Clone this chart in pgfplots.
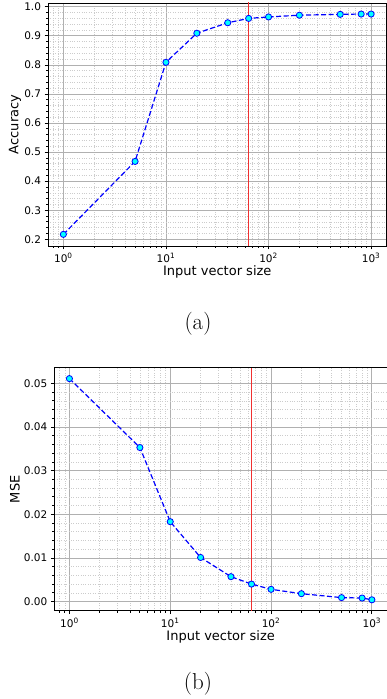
\documentclass[border=0pt]{standalone}
\usepackage{fontspec}
\usepackage{pgfplots}
\pgfplotsset{compat=1.18}
\newfontfamily\dejavu{DejaVu Sans}
\definecolor{mplgrid}{HTML}{B0B0B0}
\definecolor{mplminor}{HTML}{CCCCCC}
\definecolor{mblue}{HTML}{0000FF}
\definecolor{mcyan}{HTML}{00FFFF}
\definecolor{mred}{HTML}{F03030}

\pgfplotsset{mystyle/.style={
  scale only axis,
  xmin=0.70795, xmax=1412.5,
  axis line style={line width=0.9pt, black},
  tick align=outside, xtick pos=bottom, ytick pos=left,
  major tick length=3.5pt, minor tick length=2pt,
  every tick/.style={black, line width=0.8pt},
  grid=both,
  major grid style={mplgrid, line width=0.8pt},
  minor grid style={mplminor, dotted, line width=0.6pt},
  xtick={1,10,100,1000},
  xticklabels={10\textsuperscript{0},10\textsuperscript{1},10\textsuperscript{2},10\textsuperscript{3}},
  minor xtick={0.8,0.9,2,3,4,5,6,7,8,9,20,30,40,50,60,70,80,90,200,300,400,500,600,700,800,900},
  minor y tick num=4,
  tick label style={font=\dejavu\fontsize{10.5}{12}\selectfont},
  label style={font=\dejavu\fontsize{13}{15}\selectfont},
  /pgf/number format/assume math mode=true,
  xlabel style={at={(axis description cs:0.5,0)}, anchor=base, yshift=-30pt},
  xlabel={Input vector size},
}}

\pgfplotstableread{
x acc
1 0.217
5 0.468
10 0.809
20 0.909
40 0.945
64 0.960
100 0.965
200 0.971
500 0.974
800 0.975
1000 0.975
}\acctable

\pgfplotstableread{
x mse
1 0.0511
5 0.0353
10 0.0183
20 0.0101
40 0.0057
64 0.0040
100 0.0028
200 0.0018
500 0.0009
800 0.0008
1000 0.0004
}\msetable

\begin{document}
\begin{tikzpicture}[x=1pt,y=1pt]
\useasboundingbox (0,0) rectangle (387,699);

\begin{semilogxaxis}[mystyle,
  at={(48pt,453pt)}, anchor=south west,
  width=338.5pt, height=243pt,
  ymin=0.177, ymax=1.013,
  ytick={0.2,0.3,0.4,0.5,0.6,0.7,0.8,0.9,1.0},
  yticklabel style={/pgf/number format/fixed, /pgf/number format/fixed zerofill, /pgf/number format/precision=1},
  ylabel={Accuracy},
  ylabel style={at={(axis description cs:0,0.5)}, anchor=center, rotate=0, yshift=33pt},
]
\addplot[mblue, line width=1.2pt, dash pattern=on 5pt off 2.5pt,
  mark=*, mark size=3.1pt, mark options={solid, fill=mcyan, draw=mblue, line width=0.8pt}]
  table[x=x, y=acc] {\acctable};
\addplot[color=mred, line width=1.5pt, forget plot] coordinates {(64,0.1) (64,1.1)};
\end{semilogxaxis}

\begin{semilogxaxis}[mystyle,
  at={(54.3pt,88.3pt)}, anchor=south west,
  width=332.7pt, height=243pt,
  ymin=-0.0021, ymax=0.0536,
  ytick={0,0.01,0.02,0.03,0.04,0.05},
  yticklabel style={/pgf/number format/fixed, /pgf/number format/fixed zerofill, /pgf/number format/precision=2},
  scaled y ticks=false,
  ylabel={MSE},
  ylabel style={at={(axis description cs:0,0.5)}, anchor=center, rotate=0, yshift=39.3pt},
]
\addplot[mblue, line width=1.2pt, dash pattern=on 5pt off 2.5pt,
  mark=*, mark size=3.1pt, mark options={solid, fill=mcyan, draw=mblue, line width=0.8pt}]
  table[x=x, y=mse] {\msetable};
\draw[draw={rgb,255:red,240;green,48;blue,48}, line width=1.5pt] (axis cs:64,-0.0021) -- (axis cs:64,0.0536);
\end{semilogxaxis}

\node[anchor=center, font=\fontsize{23}{27}\selectfont] at (198,375) {(a)};
\node[anchor=center, font=\fontsize{23}{27}\selectfont] at (198,15) {(b)};
\end{tikzpicture}
\end{document}
